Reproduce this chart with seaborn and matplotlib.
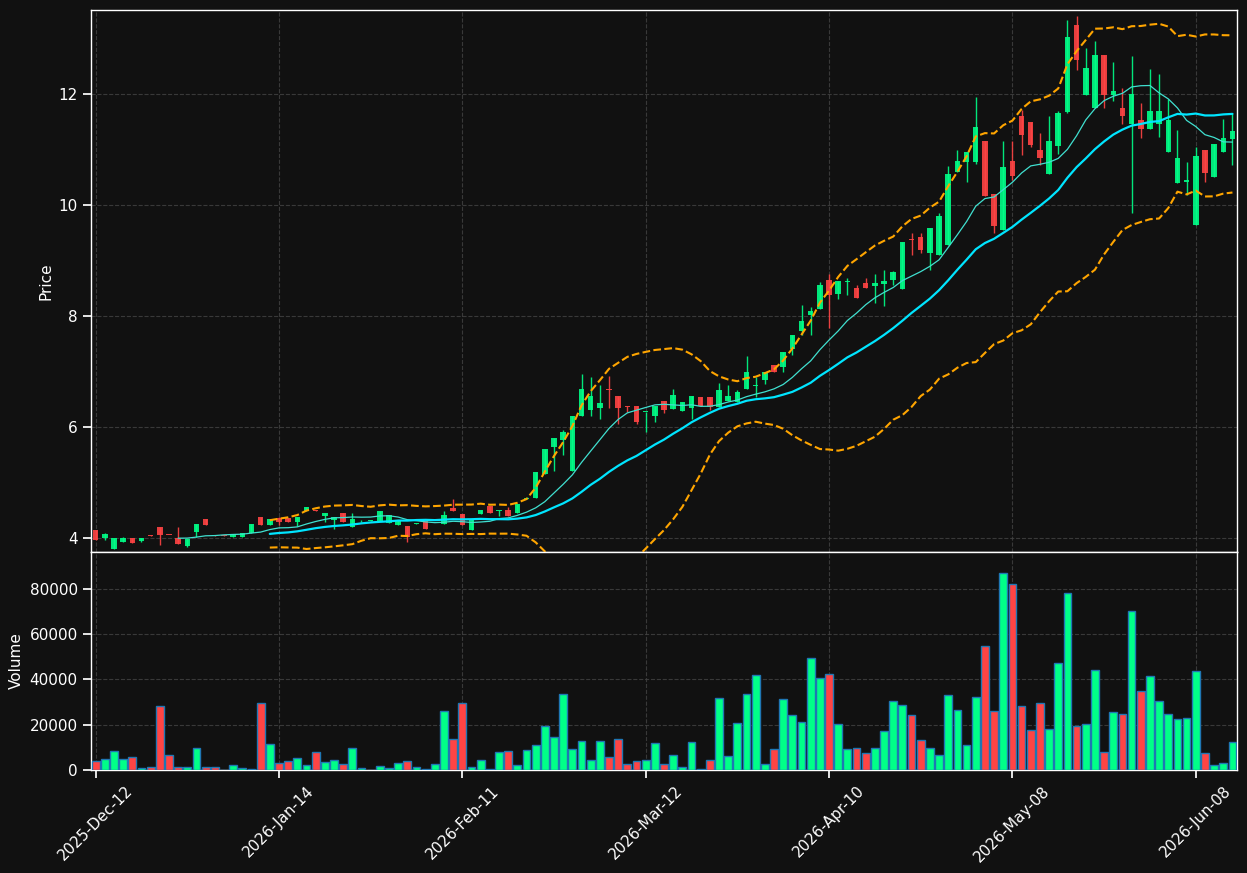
import numpy as np
import pandas as pd
import matplotlib
matplotlib.use("Agg")
import matplotlib.pyplot as plt
import seaborn as sns

# ---- data (one entry per trading day) ----
tick_labels = ["2025-Dec-12", "2026-Jan-14", "2026-Feb-11", "2026-Mar-12",
               "2026-Apr-10", "2026-May-08", "2026-Jun-08"]

opens = [4.144, 4.00, 3.80, 3.93, 4.00, 3.946, 4.05, 4.198, 4.06, 4.00,
         3.856, 4.108, 4.342, 4.05, 4.05, 4.018, 4.018, 4.09, 4.378, 4.234,
         4.36, 4.36, 4.288, 4.486, 4.505, 4.396, 4.324, 4.45, 4.198, 4.30,
         4.31, 4.306, 4.27, 4.234, 4.216, 4.26, 4.306, 4.14, 4.252, 4.54,
         4.432, 4.144, 4.432, 4.577, 4.49, 4.505, 4.45, 4.70, 4.72, 5.153,
         5.64, 5.766, 5.207, 6.198, 6.306, 6.342, 6.68, 6.56, 6.38, 6.378,
         6.27, 6.198, 6.468, 6.324, 6.288, 6.342, 6.54, 6.54, 6.36, 6.468,
         6.45, 6.685, 6.74, 6.847, 7.117, 7.08, 7.405, 7.73, 8.018, 8.126,
         8.65, 8.396, 8.62, 8.505, 8.595, 8.54, 8.577, 8.65, 8.486, 9.39,
         9.42, 9.135, 9.10, 9.28, 10.595, 10.775, 10.775, 11.153, 10.198, 9.55,
         10.79, 11.60, 11.495, 10.99, 10.56, 11.063, 11.676, 13.24, 11.98, 11.75,
         12.70, 11.98, 11.75, 11.46, 11.53, 11.37, 11.46, 10.955, 10.396, 10.41,
         9.64, 10.99, 10.505, 10.955, 11.19]

highs = [4.15, 4.096, 4.00, 4.018, 4.00, 4.00, 4.05, 4.198, 4.06, 4.198,
         3.982, 4.252, 4.342, 4.05, 4.05, 4.072, 4.09, 4.252, 4.378, 4.342,
         4.378, 4.36, 4.378, 4.559, 4.505, 4.45, 4.378, 4.45, 4.45, 4.32,
         4.32, 4.486, 4.414, 4.324, 4.216, 4.27, 4.306, 4.15, 4.486, 4.70,
         4.432, 4.342, 4.505, 4.577, 4.505, 4.559, 4.613, 4.74, 5.19, 5.60,
         5.80, 5.946, 6.198, 6.955, 6.90, 6.757, 6.92, 6.56, 6.38, 6.378,
         6.28, 6.378, 6.468, 6.685, 6.45, 6.559, 6.54, 6.54, 6.79, 6.757,
         6.667, 7.28, 6.90, 6.99, 7.117, 7.35, 7.658, 8.20, 8.16, 8.61,
         8.757, 8.63, 8.685, 8.56, 8.685, 8.757, 8.83, 8.81, 9.333, 9.49,
         9.49, 9.586, 9.856, 10.70, 10.99, 10.955, 11.946, 11.153, 10.198, 11.153,
         11.15, 11.71, 11.495, 11.30, 11.60, 11.70, 13.33, 13.41, 12.83, 12.955,
         12.70, 12.58, 12.11, 12.685, 11.84, 12.45, 12.36, 11.91, 11.35, 10.775,
         11.045, 10.99, 11.10, 11.55, 11.66]

lows = [3.96, 3.97, 3.80, 3.93, 3.91, 3.93, 4.04, 3.88, 4.054, 3.892,
        3.844, 4.018, 4.234, 4.04, 4.04, 4.018, 4.018, 4.09, 4.234, 4.234,
        4.24, 4.288, 4.216, 4.486, 4.49, 4.288, 4.162, 4.288, 4.198, 4.29,
        4.30, 4.306, 4.27, 4.234, 3.928, 4.26, 4.162, 4.14, 4.252, 4.486,
        4.234, 4.144, 4.432, 4.45, 4.396, 4.396, 4.45, 4.70, 4.72, 5.153,
        5.207, 5.495, 5.207, 6.198, 6.198, 6.144, 6.34, 6.054, 6.27, 6.05,
        5.91, 6.09, 6.25, 6.324, 6.288, 6.144, 6.378, 6.306, 6.36, 6.468,
        6.45, 6.685, 6.54, 6.775, 6.99, 6.99, 7.29, 7.66, 7.66, 8.126,
        7.78, 8.306, 8.378, 8.324, 8.505, 8.234, 8.18, 8.56, 8.486, 9.10,
        9.135, 8.83, 9.10, 9.28, 10.595, 10.41, 10.74, 10.16, 9.495, 9.55,
        10.45, 10.90, 11.05, 10.72, 10.56, 10.92, 11.65, 12.43, 11.98, 11.75,
        11.75, 11.87, 11.46, 9.85, 11.20, 11.37, 11.22, 10.955, 10.396, 10.18,
        9.64, 10.41, 10.505, 10.955, 10.72]

closes = [3.964, 4.072, 4.00, 4.00, 3.91, 4.00, 4.04, 4.054, 4.054, 3.892,
          3.982, 4.252, 4.234, 4.04, 4.04, 4.072, 4.09, 4.252, 4.234, 4.342,
          4.288, 4.288, 4.378, 4.559, 4.49, 4.45, 4.378, 4.288, 4.342, 4.31,
          4.31, 4.486, 4.414, 4.324, 4.018, 4.27, 4.162, 4.15, 4.414, 4.486,
          4.234, 4.342, 4.505, 4.45, 4.505, 4.396, 4.613, 4.73, 5.19, 5.60,
          5.80, 5.91, 6.198, 6.685, 6.56, 6.43, 6.66, 6.342, 6.37, 6.09,
          6.28, 6.378, 6.306, 6.577, 6.45, 6.559, 6.378, 6.36, 6.667, 6.559,
          6.63, 6.99, 6.757, 6.99, 6.99, 7.35, 7.658, 7.91, 8.09, 8.56,
          8.378, 8.63, 8.63, 8.324, 8.505, 8.595, 8.63, 8.79, 9.333, 9.37,
          9.19, 9.586, 9.80, 10.56, 10.79, 10.955, 11.405, 10.16, 9.62, 10.685,
          10.52, 11.26, 11.08, 10.847, 11.15, 11.66, 13.03, 12.61, 12.47, 12.70,
          11.98, 12.05, 11.60, 12.00, 11.37, 11.70, 11.70, 11.53, 10.847, 10.45,
          10.88, 10.577, 11.10, 11.207, 11.33]

volumes = [4000, 4700, 8250, 4700, 5600, 740, 1200, 28100, 6500, 1500,
           1200, 9600, 1200, 1200, 100, 2060, 740, 300, 29500, 11350,
           2950, 3830, 5150, 2060, 7800, 3400, 4270, 2500, 9600, 740,
           100, 1620, 740, 2950, 3830, 1200, 300, 2500, 25900, 13550,
           29500, 1200, 4270, 300, 7800, 8250, 2060, 8700, 10900, 19300,
           14440, 33440, 9130, 12670, 4270, 12670, 5600, 13550, 2500, 3830,
           4270, 11800, 2500, 6500, 1200, 12230, 300, 4270, 31670, 6040,
           20620, 33440, 41830, 2500, 9130, 31230, 24160, 21060, 49350, 40510,
           42280, 20180, 9130, 9575, 7370, 9575, 17090, 30350, 28580, 24160,
           13110, 9575, 6500, 33000, 26370, 10900, 32110, 54650, 25920, 86900,
           82050, 28130, 17530, 29460, 17970, 47130, 78070, 19300, 20180, 44040,
           7800, 25480, 24600, 70110, 34760, 41390, 30340, 24600, 22390, 22830,
           43600, 7370, 2060, 2950, 12230]

BG = "#111111"
UP = "#00ff88"
DOWN = "#ff4444"


def main():
    df = pd.DataFrame({"open": opens, "high": highs, "low": lows,
                       "close": closes, "volume": volumes})
    df["idx"] = np.arange(len(df))
    df["dir"] = np.where(df["close"] >= df["open"], "up", "down")
    df["ma10"] = df["close"].rolling(10).mean()
    df["ma20"] = df["close"].rolling(20).mean()
    std20 = df["close"].rolling(20).std()
    df["bb_up"] = df["ma20"] + 2 * std20
    df["bb_lo"] = df["ma20"] - 2 * std20

    sns.set_theme(style="dark", rc={
        "figure.facecolor": BG, "axes.facecolor": BG,
        "axes.edgecolor": "white", "axes.labelcolor": "white",
        "text.color": "white", "xtick.color": "white", "ytick.color": "white",
        "xtick.bottom": True, "ytick.left": True,
        "xtick.labelsize": 11, "ytick.labelsize": 11, "axes.labelsize": 11,
    })
    plt.rcParams["font.family"] = ["DejaVu Sans"]

    fig, (ax, axv) = plt.subplots(
        2, 1, figsize=(12.47, 8.73), sharex=True,
        gridspec_kw={"height_ratios": [542, 218], "hspace": 0})
    fig.subplots_adjust(left=0.073, right=0.992, top=0.9885, bottom=0.118)

    colors = np.where(df["dir"] == "up", UP, DOWN)
    body_lo = df[["open", "close"]].min(axis=1)
    body_h = (df["close"] - df["open"]).abs().clip(lower=0.012)

    # candles
    ax.vlines(df["idx"], df["low"], df["high"], colors=colors, lw=1, alpha=0.9, zorder=2)
    ax.bar(df["idx"], body_h, bottom=body_lo, width=0.6, color=colors, alpha=0.9,
           linewidth=0, zorder=3)

    # indicators
    sns.lineplot(data=df, x="idx", y="ma10", ax=ax, color="turquoise", lw=0.9, zorder=4)
    sns.lineplot(data=df, x="idx", y="ma20", ax=ax, color="#00e5ff", lw=1.6, zorder=4)
    sns.lineplot(data=df, x="idx", y="bb_up", ax=ax, color="orange", lw=1.5,
                 linestyle="--", zorder=4)
    sns.lineplot(data=df, x="idx", y="bb_lo", ax=ax, color="orange", lw=1.5,
                 linestyle="--", zorder=4)

    # volume
    sns.barplot(data=df, x="idx", y="volume", hue="dir", ax=axv,
                palette={"up": UP, "down": DOWN}, dodge=False, native_scale=True,
                width=0.85, saturation=1, edgecolor="#1f77b4", linewidth=1.0,
                legend=False, zorder=3)

    ax.set_ylim(3.75, 13.51)
    ax.set_yticks([4, 6, 8, 10, 12])
    axv.set_ylim(0, 96300)
    axv.set_yticks([0, 20000, 40000, 60000, 80000])
    axv.ticklabel_format(axis="y", style="plain")

    pos = list(range(0, len(df), 20))
    axv.set_xlim(-0.5, len(df) - 0.5)
    axv.set_xticks(pos)
    axv.set_xticklabels(tick_labels, rotation=45)
    ax.tick_params(axis="x", labelbottom=False, bottom=False)

    ax.set_ylabel("Price")
    ax.set_xlabel("")
    axv.set_ylabel("Volume")
    axv.set_xlabel("")

    for a in (ax, axv):
        a.grid(True, color="#444444", linestyle="--", linewidth=0.8, alpha=0.8)
        a.set_axisbelow(True)
        for s in a.spines.values():
            s.set_color("white")
            s.set_linewidth(1)

    fig.savefig("out.png", dpi=100, facecolor=BG)
    plt.close(fig)


if __name__ == "__main__":
    main()
